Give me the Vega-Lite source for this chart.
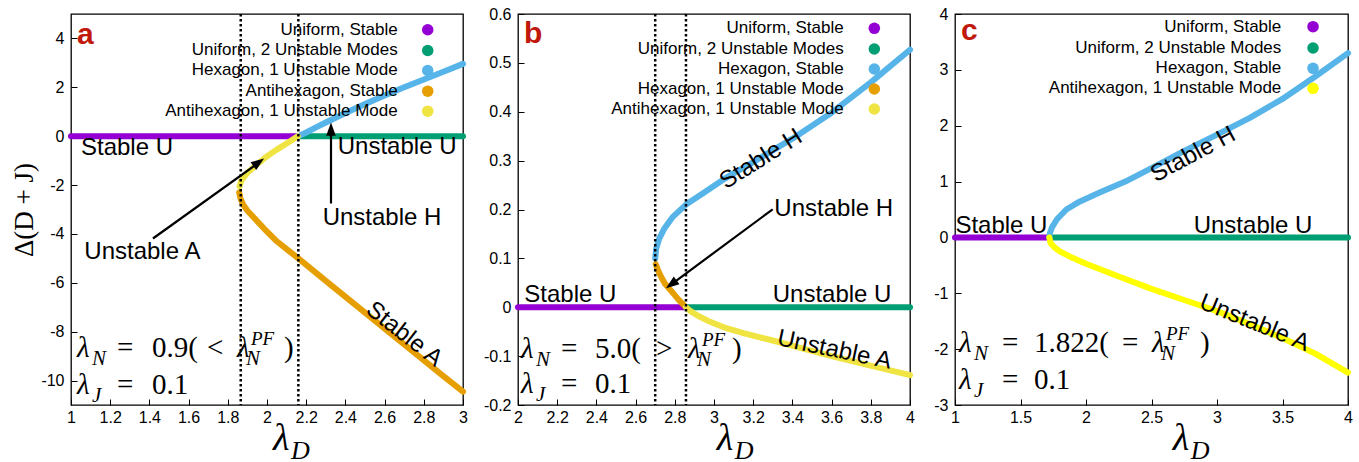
{
  "$schema": "https://vega.github.io/schema/vega-lite/v6.json",
  "background": "white",
  "padding": {"left": 10, "top": 5, "right": 5, "bottom": 0},
  "spacing": 13,
  "resolve": {"scale": {"color": "independent"}},
  "config": {
    "view": {"stroke": "black", "strokeWidth": 1.3},
    "axis": {"labelFont": "Liberation Sans", "labelFontSize": 16, "labelColor": "black", "tickColor": "black", "tickSize": -6, "tickWidth": 1, "domain": false, "grid": false, "labelFlush": false, "labelOverlap": false, "titleFont": "Liberation Serif", "titleFontSize": 27, "titleFontWeight": "normal", "titleColor": "black", "labelExpr": "datum.value + ''"},
    "axisX": {"labelPadding": 10},
    "axisY": {"labelPadding": 13, "titlePadding": 2}
  },
  "hconcat": [
    {
      "width": 392, "height": 391,
      "resolve": {"axis": {"x": "independent", "y": "independent"}},
      "layer": [
        {
          "data": {"values": [
            {"s": "Uniform, Stable", "x": 1, "y": 0}, {"s": "Uniform, Stable", "x": 2.158, "y": 0},
            {"s": "Uniform, 2 Unstable Modes", "x": 2.16, "y": 0}, {"s": "Uniform, 2 Unstable Modes", "x": 3, "y": 0},
            {"s": "Hexagon, 1 Unstable Mode", "x": 2.16, "y": 0}, {"s": "Hexagon, 1 Unstable Mode", "x": 2.2, "y": 0.15}, {"s": "Hexagon, 1 Unstable Mode", "x": 2.25, "y": 0.36}, {"s": "Hexagon, 1 Unstable Mode", "x": 2.3, "y": 0.56}, {"s": "Hexagon, 1 Unstable Mode", "x": 2.4, "y": 0.95}, {"s": "Hexagon, 1 Unstable Mode", "x": 2.5, "y": 1.32}, {"s": "Hexagon, 1 Unstable Mode", "x": 2.6, "y": 1.67}, {"s": "Hexagon, 1 Unstable Mode", "x": 2.7, "y": 2.0}, {"s": "Hexagon, 1 Unstable Mode", "x": 2.8, "y": 2.32}, {"s": "Hexagon, 1 Unstable Mode", "x": 2.9, "y": 2.64}, {"s": "Hexagon, 1 Unstable Mode", "x": 3.0, "y": 2.96},
            {"s": "Antihexagon, Stable", "x": 1.858, "y": -2.3}, {"s": "Antihexagon, Stable", "x": 1.865, "y": -2.55}, {"s": "Antihexagon, Stable", "x": 1.876, "y": -2.77}, {"s": "Antihexagon, Stable", "x": 1.9, "y": -3.05}, {"s": "Antihexagon, Stable", "x": 1.935, "y": -3.35}, {"s": "Antihexagon, Stable", "x": 1.985, "y": -3.78}, {"s": "Antihexagon, Stable", "x": 2.05, "y": -4.3}, {"s": "Antihexagon, Stable", "x": 2.1, "y": -4.62}, {"s": "Antihexagon, Stable", "x": 2.16, "y": -5.0}, {"s": "Antihexagon, Stable", "x": 2.3, "y": -5.92}, {"s": "Antihexagon, Stable", "x": 2.5, "y": -7.22}, {"s": "Antihexagon, Stable", "x": 2.7, "y": -8.52}, {"s": "Antihexagon, Stable", "x": 2.9, "y": -9.82}, {"s": "Antihexagon, Stable", "x": 3.0, "y": -10.45},
            {"s": "Antihexagon, 1 Unstable Mode", "x": 1.86, "y": -2.05}, {"s": "Antihexagon, 1 Unstable Mode", "x": 1.87, "y": -1.8}, {"s": "Antihexagon, 1 Unstable Mode", "x": 1.9, "y": -1.5}, {"s": "Antihexagon, 1 Unstable Mode", "x": 1.95, "y": -1.15}, {"s": "Antihexagon, 1 Unstable Mode", "x": 2.0, "y": -0.82}, {"s": "Antihexagon, 1 Unstable Mode", "x": 2.05, "y": -0.55}, {"s": "Antihexagon, 1 Unstable Mode", "x": 2.1, "y": -0.3}, {"s": "Antihexagon, 1 Unstable Mode", "x": 2.157, "y": 0}
          ]},
          "mark": {"type": "line", "strokeWidth": 6, "strokeCap": "round", "strokeJoin": "round"},
          "encoding": {
            "x": {"field": "x", "type": "quantitative", "scale": {"domain": [1, 3], "nice": false, "zero": false}, "axis": {"values": [1, 1.2, 1.4, 1.6, 1.8, 2, 2.2, 2.4, 2.6, 2.8, 3], "title": null}},
            "y": {"field": "y", "type": "quantitative", "scale": {"domain": [-11, 5], "nice": false, "zero": false}, "axis": {"values": [-10, -8, -6, -4, -2, 0, 2, 4], "title": "Δ(D + J)"}},
            "color": {"field": "s", "type": "nominal", "scale": {"domain": ["Uniform, Stable", "Uniform, 2 Unstable Modes", "Hexagon, 1 Unstable Mode", "Antihexagon, Stable", "Antihexagon, 1 Unstable Mode"], "range": ["#9400D3", "#009E73", "#56B4E9", "#E69F00", "#F0E442"]}, "legend": null}
          }
        },
        {
          "data": {"values": [{"x": 1.866}, {"x": 2.16}]},
          "mark": {"type": "rule", "color": "black", "strokeWidth": 2.5, "strokeDash": [2.5, 2.5]},
          "encoding": {"x": {"field": "x", "type": "quantitative", "axis": null}}
        },
        {
          "data": {"values": [
            {"s": "Uniform, Stable", "tx": 2.667, "cx": 2.82, "y": 4.354},
            {"s": "Uniform, 2 Unstable Modes", "tx": 2.667, "cx": 2.82, "y": 3.507},
            {"s": "Hexagon, 1 Unstable Mode", "tx": 2.667, "cx": 2.82, "y": 2.688},
            {"s": "Antihexagon, Stable", "tx": 2.667, "cx": 2.82, "y": 1.841},
            {"s": "Antihexagon, 1 Unstable Mode", "tx": 2.667, "cx": 2.82, "y": 1.023}
          ]},
          "layer": [
            {
              "mark": {"type": "point", "shape": "circle", "filled": true, "opacity": 1, "size": 133},
              "encoding": {
                "x": {"field": "cx", "type": "quantitative", "axis": {"orient": "top", "values": [1, 1.2, 1.4, 1.6, 1.8, 2, 2.2, 2.4, 2.6, 2.8, 3], "labels": false, "title": null}},
                "y": {"field": "y", "type": "quantitative", "axis": {"orient": "right", "values": [-10, -8, -6, -4, -2, 0, 2, 4], "labels": false, "title": null}},
                "color": {"field": "s", "type": "nominal", "legend": null}
              }
            },
            {
              "mark": {"type": "text", "font": "Liberation Sans", "fontSize": 17, "align": "right", "baseline": "middle", "color": "black"},
              "encoding": {
                "x": {"field": "tx", "type": "quantitative", "axis": null},
                "y": {"field": "y", "type": "quantitative", "axis": null},
                "text": {"field": "s"}
              }
            }
          ]
        },
        {
          "data": {"values": [{"x": 1.418, "y": -4.186, "x2": 1.9656, "y2": -1.043}, {"x": 2.3265, "y": -2.754, "x2": 2.3265, "y2": 0.36}]},
          "mark": {"type": "rule", "color": "black", "strokeWidth": 2.2},
          "encoding": {"x": {"field": "x", "type": "quantitative", "axis": null}, "y": {"field": "y", "type": "quantitative", "axis": null}, "x2": {"field": "x2"}, "y2": {"field": "y2"}}
        },
        {
          "data": {"values": [{"x": 1.985, "y": -0.912}]},
          "mark": {"type": "point", "shape": "M0,0L-0.8,2.2L0.8,2.2Z", "size": 144, "filled": true, "opacity": 1, "color": "black", "angle": 54},
          "encoding": {"x": {"field": "x", "type": "quantitative", "axis": null}, "y": {"field": "y", "type": "quantitative", "axis": null}}
        },
        {
          "data": {"values": [{"x": 2.3265, "y": 0.561}]},
          "mark": {"type": "point", "shape": "M0,0L-0.8,2.2L0.8,2.2Z", "size": 144, "filled": true, "opacity": 1, "color": "black", "angle": 0},
          "encoding": {"x": {"field": "x", "type": "quantitative", "axis": null}, "y": {"field": "y", "type": "quantitative", "axis": null}}
        },
        {
          "data": {"values": [
            {"r": "L", "t": "a", "x": 1.03, "y": 3.752},
            {"r": "n", "t": "Stable U", "x": 1.051, "y": -0.483},
            {"r": "n", "t": "Unstable U", "x": 2.361, "y": -0.45},
            {"r": "n", "t": "Unstable H", "x": 2.284, "y": -3.355},
            {"r": "n", "t": "Unstable A", "x": 1.068, "y": -4.746},
            {"r": "ra", "t": "Stable A", "x": 2.7, "y": -8.11},
            {"r": "it", "t": "λ", "x": 1.0306, "y": -9.04},
            {"r": "sub", "t": "N", "x": 1.1071, "y": -9.04},
            {"r": "rm", "t": "=", "x": 1.2347, "y": -9.04},
            {"r": "rm", "t": "0.9(", "x": 1.4133, "y": -9.04},
            {"r": "rm", "t": "<", "x": 1.6939, "y": -9.04},
            {"r": "it", "t": "λ", "x": 1.8469, "y": -9.04},
            {"r": "sub", "t": "N", "x": 1.8929, "y": -9.04},
            {"r": "sup", "t": "PF", "x": 1.9184, "y": -9.04},
            {"r": "rm", "t": ")", "x": 2.0867, "y": -9.04},
            {"r": "it", "t": "λ", "x": 1.0306, "y": -10.54},
            {"r": "sub", "t": "J", "x": 1.1071, "y": -10.54},
            {"r": "rm", "t": "=", "x": 1.2347, "y": -10.54},
            {"r": "rm", "t": "0.1", "x": 1.4133, "y": -10.54},
            {"r": "T", "t": "λ", "x": 2.031, "y": -12.86},
            {"r": "Ts", "t": "D", "x": 2.122, "y": -12.86}
          ]},
          "encoding": {"x": {"field": "x", "type": "quantitative", "axis": null}, "y": {"field": "y", "type": "quantitative", "axis": null}, "text": {"field": "t"}},
          "layer": [
            {"transform": [{"filter": "datum.r == 'L'"}], "mark": {"type": "text", "font": "Liberation Sans", "fontSize": 30, "fontWeight": "bold", "color": "#C0180A", "align": "left", "baseline": "alphabetic"}},
            {"transform": [{"filter": "datum.r == 'n'"}], "mark": {"type": "text", "font": "Liberation Sans", "fontSize": 24, "color": "black", "align": "left", "baseline": "middle"}},
            {"transform": [{"filter": "datum.r == 'ra'"}], "mark": {"type": "text", "font": "Liberation Sans", "fontSize": 24, "color": "black", "align": "center", "baseline": "middle", "angle": 38}},
            {"transform": [{"filter": "datum.r == 'rm'"}], "mark": {"type": "text", "font": "Liberation Serif", "fontSize": 29, "color": "black", "align": "left", "baseline": "alphabetic"}},
            {"transform": [{"filter": "datum.r == 'it'"}], "mark": {"type": "text", "font": "Liberation Serif", "fontSize": 29, "fontStyle": "italic", "color": "black", "align": "left", "baseline": "alphabetic"}},
            {"transform": [{"filter": "datum.r == 'sub'"}], "mark": {"type": "text", "font": "Liberation Serif", "fontSize": 21, "fontStyle": "italic", "color": "black", "align": "left", "baseline": "alphabetic", "dy": 8}},
            {"transform": [{"filter": "datum.r == 'sup'"}], "mark": {"type": "text", "font": "Liberation Serif", "fontSize": 19, "fontStyle": "italic", "color": "black", "align": "left", "baseline": "alphabetic", "dy": -12}},
            {"transform": [{"filter": "datum.r == 'T'"}], "mark": {"type": "text", "font": "Liberation Serif", "fontSize": 38, "fontStyle": "italic", "color": "black", "align": "left", "baseline": "alphabetic"}},
            {"transform": [{"filter": "datum.r == 'Ts'"}], "mark": {"type": "text", "font": "Liberation Serif", "fontSize": 26, "fontStyle": "italic", "color": "black", "align": "left", "baseline": "alphabetic", "dy": 9}}
          ]
        }
      ]
    },
    {
      "spacing": 17,
      "resolve": {"scale": {"color": "independent"}},
      "hconcat": [
        {
          "width": 392, "height": 391,
          "resolve": {"axis": {"x": "independent", "y": "independent"}},
          "layer": [
            {
              "data": {"values": [
                {"s": "Uniform, Stable", "x": 2, "y": 0}, {"s": "Uniform, Stable", "x": 2.857, "y": 0},
                {"s": "Uniform, 2 Unstable Modes", "x": 2.857, "y": 0}, {"s": "Uniform, 2 Unstable Modes", "x": 4, "y": 0},
                {"s": "Hexagon, Stable", "x": 2.7, "y": 0.1}, {"s": "Hexagon, Stable", "x": 2.705, "y": 0.12}, {"s": "Hexagon, Stable", "x": 2.72, "y": 0.14}, {"s": "Hexagon, Stable", "x": 2.745, "y": 0.16}, {"s": "Hexagon, Stable", "x": 2.79, "y": 0.185}, {"s": "Hexagon, Stable", "x": 2.857, "y": 0.21}, {"s": "Hexagon, Stable", "x": 2.95, "y": 0.235}, {"s": "Hexagon, Stable", "x": 3.05, "y": 0.262}, {"s": "Hexagon, Stable", "x": 3.2, "y": 0.297}, {"s": "Hexagon, Stable", "x": 3.4, "y": 0.345}, {"s": "Hexagon, Stable", "x": 3.6, "y": 0.398}, {"s": "Hexagon, Stable", "x": 3.8, "y": 0.46}, {"s": "Hexagon, Stable", "x": 4.0, "y": 0.527},
                {"s": "Hexagon, 1 Unstable Mode", "x": 2.703, "y": 0.088}, {"s": "Hexagon, 1 Unstable Mode", "x": 2.715, "y": 0.075}, {"s": "Hexagon, 1 Unstable Mode", "x": 2.73, "y": 0.0625}, {"s": "Hexagon, 1 Unstable Mode", "x": 2.75, "y": 0.048}, {"s": "Hexagon, 1 Unstable Mode", "x": 2.789, "y": 0.03}, {"s": "Hexagon, 1 Unstable Mode", "x": 2.82, "y": 0.015}, {"s": "Hexagon, 1 Unstable Mode", "x": 2.857, "y": 0},
                {"s": "Antihexagon, 1 Unstable Mode", "x": 2.857, "y": 0}, {"s": "Antihexagon, 1 Unstable Mode", "x": 2.88, "y": -0.008}, {"s": "Antihexagon, 1 Unstable Mode", "x": 2.92, "y": -0.018}, {"s": "Antihexagon, 1 Unstable Mode", "x": 2.97, "y": -0.028}, {"s": "Antihexagon, 1 Unstable Mode", "x": 3.05, "y": -0.041}, {"s": "Antihexagon, 1 Unstable Mode", "x": 3.15, "y": -0.053}, {"s": "Antihexagon, 1 Unstable Mode", "x": 3.3, "y": -0.068}, {"s": "Antihexagon, 1 Unstable Mode", "x": 3.45, "y": -0.084}, {"s": "Antihexagon, 1 Unstable Mode", "x": 3.6, "y": -0.1}, {"s": "Antihexagon, 1 Unstable Mode", "x": 3.75, "y": -0.115}, {"s": "Antihexagon, 1 Unstable Mode", "x": 3.9, "y": -0.129}, {"s": "Antihexagon, 1 Unstable Mode", "x": 4.0, "y": -0.139}
              ]},
              "mark": {"type": "line", "strokeWidth": 6, "strokeCap": "round", "strokeJoin": "round"},
              "encoding": {
                "x": {"field": "x", "type": "quantitative", "scale": {"domain": [2, 4], "nice": false, "zero": false}, "axis": {"values": [2, 2.2, 2.4, 2.6, 2.8, 3, 3.2, 3.4, 3.6, 3.8, 4], "title": null}},
                "y": {"field": "y", "type": "quantitative", "scale": {"domain": [-0.2, 0.6], "nice": false, "zero": false}, "axis": {"values": [-0.2, -0.1, 0, 0.1, 0.2, 0.3, 0.4, 0.5, 0.6], "title": null}},
                "color": {"field": "s", "type": "nominal", "scale": {"domain": ["Uniform, Stable", "Uniform, 2 Unstable Modes", "Hexagon, Stable", "Hexagon, 1 Unstable Mode", "Antihexagon, 1 Unstable Mode"], "range": ["#9400D3", "#009E73", "#56B4E9", "#E69F00", "#F0E442"]}, "legend": null}
              }
            },
            {
              "data": {"values": [{"x": 2.7}, {"x": 2.857}]},
              "mark": {"type": "rule", "color": "black", "strokeWidth": 2.5, "strokeDash": [2.5, 2.5]},
              "encoding": {"x": {"field": "x", "type": "quantitative", "axis": null}}
            },
            {
              "data": {"values": [
                {"s": "Uniform, Stable", "tx": 3.662, "cx": 3.818, "y": 0.5707},
                {"s": "Uniform, 2 Unstable Modes", "tx": 3.662, "cx": 3.818, "y": 0.5284},
                {"s": "Hexagon, Stable", "tx": 3.662, "cx": 3.818, "y": 0.4875},
                {"s": "Hexagon, 1 Unstable Mode", "tx": 3.662, "cx": 3.818, "y": 0.4465},
                {"s": "Antihexagon, 1 Unstable Mode", "tx": 3.662, "cx": 3.818, "y": 0.4056}
              ]},
              "layer": [
                {
                  "mark": {"type": "point", "shape": "circle", "filled": true, "opacity": 1, "size": 133},
                  "encoding": {
                    "x": {"field": "cx", "type": "quantitative", "axis": {"orient": "top", "values": [2, 2.2, 2.4, 2.6, 2.8, 3, 3.2, 3.4, 3.6, 3.8, 4], "labels": false, "title": null}},
                    "y": {"field": "y", "type": "quantitative", "axis": {"orient": "right", "values": [-0.2, -0.1, 0, 0.1, 0.2, 0.3, 0.4, 0.5, 0.6], "labels": false, "title": null}},
                    "color": {"field": "s", "type": "nominal", "legend": null}
                  }
                },
                {
                  "mark": {"type": "text", "font": "Liberation Sans", "fontSize": 17, "align": "right", "baseline": "middle", "color": "black"},
                  "encoding": {
                    "x": {"field": "tx", "type": "quantitative", "axis": null},
                    "y": {"field": "y", "type": "quantitative", "axis": null},
                    "text": {"field": "s"}
                  }
                }
              ]
            },
            {
              "data": {"values": [{"x": 3.2995, "y": 0.2004, "x2": 2.7755, "y2": 0.0449}]},
              "mark": {"type": "rule", "color": "black", "strokeWidth": 2.2},
              "encoding": {"x": {"field": "x", "type": "quantitative", "axis": null}, "y": {"field": "y", "type": "quantitative", "axis": null}, "x2": {"field": "x2"}, "y2": {"field": "y2"}}
            },
            {
              "data": {"values": [{"x": 2.755, "y": 0.0388}]},
              "mark": {"type": "point", "shape": "M0,0L-0.8,2.2L0.8,2.2Z", "size": 144, "filled": true, "opacity": 1, "color": "black", "angle": 233.5},
              "encoding": {"x": {"field": "x", "type": "quantitative", "axis": null}, "y": {"field": "y", "type": "quantitative", "axis": null}}
            },
            {
              "data": {"values": [
                {"r": "L", "t": "b", "x": 2.0306, "y": 0.54},
                {"r": "n", "t": "Stable U", "x": 2.032, "y": 0.025},
                {"r": "n", "t": "Unstable U", "x": 3.2995, "y": 0.025},
                {"r": "n", "t": "Unstable H", "x": 3.308, "y": 0.201},
                {"r": "ra", "t": "Stable H", "x": 3.24, "y": 0.303},
                {"r": "rb", "t": "Unstable A", "x": 3.614, "y": -0.0875},
                {"r": "it", "t": "λ", "x": 2.0153, "y": -0.1045},
                {"r": "sub", "t": "N", "x": 2.0918, "y": -0.1045},
                {"r": "rm", "t": "=", "x": 2.2194, "y": -0.1045},
                {"r": "rm", "t": "5.0(", "x": 2.3929, "y": -0.1045},
                {"r": "rm", "t": ">", "x": 2.7041, "y": -0.1045},
                {"r": "it", "t": "λ", "x": 2.8673, "y": -0.1045},
                {"r": "sub", "t": "N", "x": 2.9133, "y": -0.1045},
                {"r": "sup", "t": "PF", "x": 2.9388, "y": -0.1045},
                {"r": "rm", "t": ")", "x": 3.0918, "y": -0.1045},
                {"r": "it", "t": "λ", "x": 2.0153, "y": -0.176},
                {"r": "sub", "t": "J", "x": 2.0918, "y": -0.176},
                {"r": "rm", "t": "=", "x": 2.2194, "y": -0.176},
                {"r": "rm", "t": "0.1", "x": 2.3929, "y": -0.176},
                {"r": "T", "t": "λ", "x": 3.014, "y": -0.292},
                {"r": "Ts", "t": "D", "x": 3.106, "y": -0.292}
              ]},
              "encoding": {"x": {"field": "x", "type": "quantitative", "axis": null}, "y": {"field": "y", "type": "quantitative", "axis": null}, "text": {"field": "t"}},
              "layer": [
                {"transform": [{"filter": "datum.r == 'L'"}], "mark": {"type": "text", "font": "Liberation Sans", "fontSize": 30, "fontWeight": "bold", "color": "#C0180A", "align": "left", "baseline": "alphabetic"}},
                {"transform": [{"filter": "datum.r == 'n'"}], "mark": {"type": "text", "font": "Liberation Sans", "fontSize": 24, "color": "black", "align": "left", "baseline": "middle"}},
                {"transform": [{"filter": "datum.r == 'ra'"}], "mark": {"type": "text", "font": "Liberation Sans", "fontSize": 24, "color": "black", "align": "center", "baseline": "middle", "angle": -32}},
                {"transform": [{"filter": "datum.r == 'rb'"}], "mark": {"type": "text", "font": "Liberation Sans", "fontSize": 24, "color": "black", "align": "center", "baseline": "middle", "angle": 12}},
                {"transform": [{"filter": "datum.r == 'rm'"}], "mark": {"type": "text", "font": "Liberation Serif", "fontSize": 29, "color": "black", "align": "left", "baseline": "alphabetic"}},
                {"transform": [{"filter": "datum.r == 'it'"}], "mark": {"type": "text", "font": "Liberation Serif", "fontSize": 29, "fontStyle": "italic", "color": "black", "align": "left", "baseline": "alphabetic"}},
                {"transform": [{"filter": "datum.r == 'sub'"}], "mark": {"type": "text", "font": "Liberation Serif", "fontSize": 21, "fontStyle": "italic", "color": "black", "align": "left", "baseline": "alphabetic", "dy": 8}},
                {"transform": [{"filter": "datum.r == 'sup'"}], "mark": {"type": "text", "font": "Liberation Serif", "fontSize": 19, "fontStyle": "italic", "color": "black", "align": "left", "baseline": "alphabetic", "dy": -12}},
                {"transform": [{"filter": "datum.r == 'T'"}], "mark": {"type": "text", "font": "Liberation Serif", "fontSize": 38, "fontStyle": "italic", "color": "black", "align": "left", "baseline": "alphabetic"}},
                {"transform": [{"filter": "datum.r == 'Ts'"}], "mark": {"type": "text", "font": "Liberation Serif", "fontSize": 26, "fontStyle": "italic", "color": "black", "align": "left", "baseline": "alphabetic", "dy": 9}}
              ]
            }
          ]
        },
        {
          "width": 393, "height": 391,
          "resolve": {"axis": {"x": "independent", "y": "independent"}},
          "layer": [
            {
              "data": {"values": [
                {"s": "Uniform, Stable", "x": 1, "y": 0}, {"s": "Uniform, Stable", "x": 1.72, "y": 0},
                {"s": "Uniform, 2 Unstable Modes", "x": 1.72, "y": 0}, {"s": "Uniform, 2 Unstable Modes", "x": 4, "y": 0},
                {"s": "Hexagon, Stable", "x": 1.72, "y": 0}, {"s": "Hexagon, Stable", "x": 1.725, "y": 0.08}, {"s": "Hexagon, Stable", "x": 1.74, "y": 0.18}, {"s": "Hexagon, Stable", "x": 1.78, "y": 0.33}, {"s": "Hexagon, Stable", "x": 1.85, "y": 0.5}, {"s": "Hexagon, Stable", "x": 1.95, "y": 0.64}, {"s": "Hexagon, Stable", "x": 2.1, "y": 0.8}, {"s": "Hexagon, Stable", "x": 2.3, "y": 1.0}, {"s": "Hexagon, Stable", "x": 2.5, "y": 1.24}, {"s": "Hexagon, Stable", "x": 2.75, "y": 1.55}, {"s": "Hexagon, Stable", "x": 3.0, "y": 1.84}, {"s": "Hexagon, Stable", "x": 3.25, "y": 2.14}, {"s": "Hexagon, Stable", "x": 3.5, "y": 2.48}, {"s": "Hexagon, Stable", "x": 3.75, "y": 2.88}, {"s": "Hexagon, Stable", "x": 4.0, "y": 3.3},
                {"s": "Antihexagon, 1 Unstable Mode", "x": 1.72, "y": 0}, {"s": "Antihexagon, 1 Unstable Mode", "x": 1.73, "y": -0.1}, {"s": "Antihexagon, 1 Unstable Mode", "x": 1.76, "y": -0.18}, {"s": "Antihexagon, 1 Unstable Mode", "x": 1.8, "y": -0.25}, {"s": "Antihexagon, 1 Unstable Mode", "x": 1.9, "y": -0.37}, {"s": "Antihexagon, 1 Unstable Mode", "x": 2.0, "y": -0.47}, {"s": "Antihexagon, 1 Unstable Mode", "x": 2.25, "y": -0.7}, {"s": "Antihexagon, 1 Unstable Mode", "x": 2.5, "y": -0.92}, {"s": "Antihexagon, 1 Unstable Mode", "x": 2.75, "y": -1.12}, {"s": "Antihexagon, 1 Unstable Mode", "x": 3.0, "y": -1.32}, {"s": "Antihexagon, 1 Unstable Mode", "x": 3.25, "y": -1.55}, {"s": "Antihexagon, 1 Unstable Mode", "x": 3.5, "y": -1.8}, {"s": "Antihexagon, 1 Unstable Mode", "x": 3.75, "y": -2.08}, {"s": "Antihexagon, 1 Unstable Mode", "x": 4.0, "y": -2.42}
              ]},
              "mark": {"type": "line", "strokeWidth": 6, "strokeCap": "round", "strokeJoin": "round"},
              "encoding": {
                "x": {"field": "x", "type": "quantitative", "scale": {"domain": [1, 4], "nice": false, "zero": false}, "axis": {"values": [1, 1.5, 2, 2.5, 3, 3.5, 4], "title": null}},
                "y": {"field": "y", "type": "quantitative", "scale": {"domain": [-3, 4], "nice": false, "zero": false}, "axis": {"values": [-3, -2, -1, 0, 1, 2, 3, 4], "title": null}},
                "color": {"field": "s", "type": "nominal", "scale": {"domain": ["Uniform, Stable", "Uniform, 2 Unstable Modes", "Hexagon, Stable", "Antihexagon, 1 Unstable Mode"], "range": ["#9400D3", "#009E73", "#56B4E9", "#FFFF00"]}, "legend": null}
              }
            },
            {
              "data": {"values": [
                {"s": "Uniform, Stable", "tx": 3.491, "cx": 3.733, "y": 3.773},
                {"s": "Uniform, 2 Unstable Modes", "tx": 3.491, "cx": 3.733, "y": 3.392},
                {"s": "Hexagon, Stable", "tx": 3.491, "cx": 3.733, "y": 3.027},
                {"s": "Antihexagon, 1 Unstable Mode", "tx": 3.491, "cx": 3.733, "y": 2.669}
              ]},
              "layer": [
                {
                  "mark": {"type": "point", "shape": "circle", "filled": true, "opacity": 1, "size": 133},
                  "encoding": {
                    "x": {"field": "cx", "type": "quantitative", "axis": {"orient": "top", "values": [1, 1.5, 2, 2.5, 3, 3.5, 4], "labels": false, "title": null}},
                    "y": {"field": "y", "type": "quantitative", "axis": {"orient": "right", "values": [-3, -2, -1, 0, 1, 2, 3, 4], "labels": false, "title": null}},
                    "color": {"field": "s", "type": "nominal", "legend": null}
                  }
                },
                {
                  "mark": {"type": "text", "font": "Liberation Sans", "fontSize": 17, "align": "right", "baseline": "middle", "color": "black"},
                  "encoding": {
                    "x": {"field": "tx", "type": "quantitative", "axis": null},
                    "y": {"field": "y", "type": "quantitative", "axis": null},
                    "text": {"field": "s"}
                  }
                }
              ]
            },
            {
              "data": {"values": [
                {"r": "L", "t": "c", "x": 1.046, "y": 3.535},
                {"r": "n", "t": "Stable U", "x": 1.003, "y": 0.213},
                {"r": "n", "t": "Unstable U", "x": 2.822, "y": 0.213},
                {"r": "ra", "t": "Stable H", "x": 2.817, "y": 1.483},
                {"r": "rb", "t": "Unstable A", "x": 3.286, "y": -1.531},
                {"r": "it", "t": "λ", "x": 1.0305, "y": -2.054},
                {"r": "sub", "t": "N", "x": 1.145, "y": -2.054},
                {"r": "rm", "t": "=", "x": 1.3588, "y": -2.054},
                {"r": "rm", "t": "1.822(", "x": 1.603, "y": -2.054},
                {"r": "rm", "t": "=", "x": 2.2748, "y": -2.054},
                {"r": "it", "t": "λ", "x": 2.5038, "y": -2.054},
                {"r": "sub", "t": "N", "x": 2.5725, "y": -2.054},
                {"r": "sup", "t": "PF", "x": 2.6107, "y": -2.054},
                {"r": "rm", "t": ")", "x": 2.8702, "y": -2.054},
                {"r": "it", "t": "λ", "x": 1.0305, "y": -2.721},
                {"r": "sub", "t": "J", "x": 1.145, "y": -2.721},
                {"r": "rm", "t": "=", "x": 1.3588, "y": -2.721},
                {"r": "rm", "t": "0.1", "x": 1.603, "y": -2.721},
                {"r": "T", "t": "λ", "x": 2.662, "y": -3.812},
                {"r": "Ts", "t": "D", "x": 2.799, "y": -3.812}
              ]},
              "encoding": {"x": {"field": "x", "type": "quantitative", "axis": null}, "y": {"field": "y", "type": "quantitative", "axis": null}, "text": {"field": "t"}},
              "layer": [
                {"transform": [{"filter": "datum.r == 'L'"}], "mark": {"type": "text", "font": "Liberation Sans", "fontSize": 30, "fontWeight": "bold", "color": "#C0180A", "align": "left", "baseline": "alphabetic"}},
                {"transform": [{"filter": "datum.r == 'n'"}], "mark": {"type": "text", "font": "Liberation Sans", "fontSize": 24, "color": "black", "align": "left", "baseline": "middle"}},
                {"transform": [{"filter": "datum.r == 'ra'"}], "mark": {"type": "text", "font": "Liberation Sans", "fontSize": 24, "color": "black", "align": "center", "baseline": "middle", "angle": -28}},
                {"transform": [{"filter": "datum.r == 'rb'"}], "mark": {"type": "text", "font": "Liberation Sans", "fontSize": 24, "color": "black", "align": "center", "baseline": "middle", "angle": 22}},
                {"transform": [{"filter": "datum.r == 'rm'"}], "mark": {"type": "text", "font": "Liberation Serif", "fontSize": 29, "color": "black", "align": "left", "baseline": "alphabetic"}},
                {"transform": [{"filter": "datum.r == 'it'"}], "mark": {"type": "text", "font": "Liberation Serif", "fontSize": 29, "fontStyle": "italic", "color": "black", "align": "left", "baseline": "alphabetic"}},
                {"transform": [{"filter": "datum.r == 'sub'"}], "mark": {"type": "text", "font": "Liberation Serif", "fontSize": 21, "fontStyle": "italic", "color": "black", "align": "left", "baseline": "alphabetic", "dy": 8}},
                {"transform": [{"filter": "datum.r == 'sup'"}], "mark": {"type": "text", "font": "Liberation Serif", "fontSize": 19, "fontStyle": "italic", "color": "black", "align": "left", "baseline": "alphabetic", "dy": -12}},
                {"transform": [{"filter": "datum.r == 'T'"}], "mark": {"type": "text", "font": "Liberation Serif", "fontSize": 38, "fontStyle": "italic", "color": "black", "align": "left", "baseline": "alphabetic"}},
                {"transform": [{"filter": "datum.r == 'Ts'"}], "mark": {"type": "text", "font": "Liberation Serif", "fontSize": 26, "fontStyle": "italic", "color": "black", "align": "left", "baseline": "alphabetic", "dy": 9}}
              ]
            }
          ]
        }
      ]
    }
  ]
}
